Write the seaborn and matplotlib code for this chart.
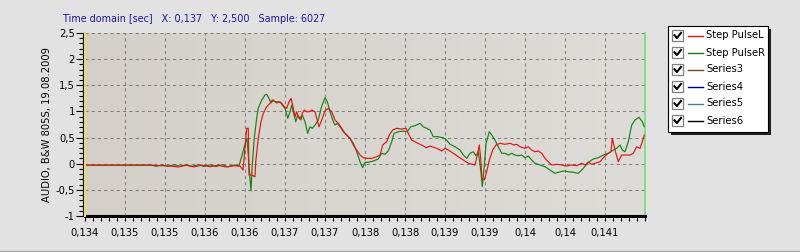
import numpy as np
import pandas as pd
import matplotlib
matplotlib.use("Agg")
import matplotlib.pyplot as plt
import seaborn as sns
from matplotlib.patches import Rectangle
from matplotlib.lines import Line2D
from matplotlib.ticker import FixedLocator, MultipleLocator

# ---------------- data ----------------
series_names = ["Step PulseL", "Step PulseR", "Series3", "Series4", "Series5", "Series6"]
series_colors = ["#E81212", "#128412", "#7A4A1A", "#000080", "#4A8080", "#000000"]

time_left = [0.134000, 0.134750, 0.135063, 0.135163, 0.135263, 0.135363, 0.135463, 0.135563,
             0.135663, 0.135763, 0.135863, 0.135938, 0.135975, 0.136021, 0.136041, 0.136050,
             0.136084, 0.136125, 0.136134, 0.136166, 0.136200, 0.136229, 0.136271, 0.136313,
             0.136341, 0.136375, 0.136416, 0.136459, 0.136491, 0.136521, 0.136550, 0.136575,
             0.136596, 0.136625, 0.136646, 0.136675, 0.136700, 0.136716, 0.136741, 0.136771,
             0.136800, 0.136834, 0.136875, 0.136896, 0.136925, 0.136959, 0.137000, 0.137041,
             0.137084, 0.137125, 0.137166, 0.137209, 0.137250, 0.137313, 0.137354, 0.137396,
             0.137438, 0.137479, 0.137521, 0.137584, 0.137646, 0.137688, 0.137721, 0.137771,
             0.137804, 0.137846, 0.137896, 0.137959, 0.138013, 0.138041, 0.138084, 0.138146,
             0.138209, 0.138263, 0.138313, 0.138375, 0.138416, 0.138459, 0.138500, 0.138541,
             0.138604, 0.138666, 0.138729, 0.138791, 0.138875, 0.138904, 0.138929, 0.138946,
             0.138963, 0.138991, 0.139021, 0.139054, 0.139096, 0.139138, 0.139188, 0.139250,
             0.139313, 0.139363, 0.139396, 0.139438, 0.139500, 0.139541, 0.139584, 0.139625,
             0.139666, 0.139709, 0.139750, 0.139791, 0.139834, 0.139896, 0.139959, 0.140021,
             0.140084, 0.140146, 0.140209, 0.140250, 0.140291, 0.140334, 0.140375, 0.140438,
             0.140491, 0.140541, 0.140575, 0.140591, 0.140625, 0.140666, 0.140709, 0.140750,
             0.140813, 0.140854, 0.140896, 0.140938, 0.140966, 0.140991]
amp_left = [-0.025, -0.025, -0.044, -0.063, -0.030, -0.060, -0.028, -0.058,
            -0.030, -0.062, -0.040, -0.044, -0.120, 0.677, 0.677, -0.216,
            -0.216, -0.249, 0.038, 0.486, 0.803, 0.964, 1.090, 1.155,
            1.218, 1.185, 1.185, 1.155, 1.090, 1.059, 1.185, 1.250,
            1.122, 0.899, 0.994, 0.868, 0.836, 0.964, 1.027, 0.994,
            0.994, 1.027, 0.994, 0.868, 0.707, 0.836, 1.010, 1.059,
            0.994, 0.836, 0.772, 0.677, 0.581, 0.486, 0.358, 0.262,
            0.166, 0.115, 0.103, 0.103, 0.134, 0.166, 0.358, 0.421,
            0.549, 0.644, 0.677, 0.663, 0.677, 0.581, 0.453, 0.402,
            0.358, 0.306, 0.338, 0.306, 0.281, 0.243, 0.294, 0.262,
            0.199, 0.134, 0.071, 0.008, -0.025, 0.166, 0.358, 0.103,
            -0.279, -0.312, -0.153, 0.071, 0.262, 0.358, 0.390, 0.371,
            0.390, 0.358, 0.371, 0.325, 0.294, 0.325, 0.262, 0.229,
            0.243, 0.199, 0.103, 0.038, -0.025, -0.011, -0.025, -0.044,
            -0.025, -0.038, 0.008, -0.025, 0.027, -0.011, 0.008, 0.038,
            0.134, 0.199, 0.229, 0.486, 0.262, 0.038, 0.166, 0.166,
            0.166, 0.199, 0.325, 0.294, 0.421, 0.549]

time_right = [0.134000, 0.134750, 0.134813, 0.134888, 0.134963, 0.135038, 0.135113, 0.135188,
              0.135263, 0.135338, 0.135413, 0.135488, 0.135563, 0.135638, 0.135713, 0.135788,
              0.135863, 0.135925, 0.136009, 0.136025, 0.136075, 0.136091, 0.136116, 0.136146,
              0.136166, 0.136209, 0.136250, 0.136271, 0.136300, 0.136325, 0.136354, 0.136396,
              0.136438, 0.136466, 0.136500, 0.136534, 0.136563, 0.136584, 0.136604, 0.136634,
              0.136659, 0.136688, 0.136716, 0.136750, 0.136784, 0.136813, 0.136841, 0.136875,
              0.136916, 0.136959, 0.137000, 0.137029, 0.137063, 0.137104, 0.137125, 0.137154,
              0.137188, 0.137229, 0.137271, 0.137313, 0.137354, 0.137396, 0.137438, 0.137471,
              0.137500, 0.137541, 0.137604, 0.137666, 0.137709, 0.137750, 0.137791, 0.137834,
              0.137863, 0.137916, 0.137979, 0.138029, 0.138071, 0.138125, 0.138188, 0.138229,
              0.138271, 0.138313, 0.138354, 0.138416, 0.138479, 0.138521, 0.138563, 0.138625,
              0.138688, 0.138729, 0.138771, 0.138813, 0.138854, 0.138888, 0.138916, 0.138946,
              0.138966, 0.138988, 0.139013, 0.139054, 0.139084, 0.139125, 0.139166, 0.139209,
              0.139250, 0.139291, 0.139334, 0.139375, 0.139416, 0.139459, 0.139500, 0.139541,
              0.139584, 0.139625, 0.139688, 0.139750, 0.139813, 0.139875, 0.139916, 0.139979,
              0.140041, 0.140104, 0.140166, 0.140229, 0.140291, 0.140354, 0.140416, 0.140479,
              0.140541, 0.140604, 0.140646, 0.140688, 0.140716, 0.140750, 0.140791, 0.140834,
              0.140875, 0.140925, 0.140966, 0.140991]
amp_right = [-0.030, -0.030, -0.020, -0.050, -0.022, -0.052, -0.020, -0.048,
             -0.022, -0.050, -0.020, -0.052, -0.022, -0.055, -0.020, -0.060,
             -0.025, -0.044, 0.421, 0.486, -0.522, -0.025, 0.491, 0.874,
             1.065, 1.218, 1.314, 1.327, 1.250, 1.161, 1.218, 1.161,
             1.185, 1.122, 1.059, 0.868, 0.994, 1.122, 0.994, 0.803,
             0.931, 0.868, 0.931, 0.803, 0.581, 0.707, 0.677, 0.740,
             0.836, 1.103, 1.262, 1.185, 0.994, 0.803, 0.740, 0.772,
             0.707, 0.612, 0.549, 0.486, 0.390, 0.229, 0.038, -0.076,
             0.027, 0.027, 0.052, 0.090, 0.199, 0.180, 0.243, 0.421,
             0.581, 0.612, 0.625, 0.612, 0.707, 0.727, 0.772, 0.707,
             0.677, 0.644, 0.516, 0.516, 0.497, 0.453, 0.371, 0.325,
             0.262, 0.166, 0.103, 0.199, 0.229, 0.153, 0.229, -0.120,
             -0.440, -0.088, 0.390, 0.612, 0.549, 0.453, 0.325, 0.199,
             0.199, 0.166, 0.199, 0.166, 0.153, 0.166, 0.115, 0.147,
             0.071, 0.008, -0.025, -0.057, -0.120, -0.184, -0.164, -0.140,
             -0.153, -0.164, -0.184, -0.088, 0.027, 0.090, 0.115, 0.166,
             0.199, 0.262, 0.294, 0.358, 0.262, 0.229, 0.421, 0.740,
             0.836, 0.887, 0.803, 0.707]

x_tick_values = [0.1340, 0.1345, 0.1350, 0.1355, 0.1360, 0.1365, 0.1370,
                 0.1375, 0.1380, 0.1385, 0.1390, 0.1395, 0.1400, 0.1405]
x_tick_labels = ["0,134", "0,135", "0,135", "0,136", "0,136", "0,137", "0,137",
                 "0,138", "0,138", "0,139", "0,139", "0,14", "0,14", "0,141"]
y_tick_values = [-1.0, -0.5, 0.0, 0.5, 1.0, 1.5, 2.0, 2.5]
y_tick_labels = ["-1", "-0,5", "0", "0,5", "1", "1,5", "2", "2,5"]
x_range = [0.134, 0.141]
y_range = [-1.0, 2.5]

title_text = "Time domain [sec]   X: 0,137   Y: 2,500   Sample: 6027"
y_label_text = "AUDIO, B&W 805S, 19.08.2009"

# ---------------- figure ----------------
plt.rcParams["font.family"] = ["DejaVu Sans"]
W, H = 800, 252
fig = plt.figure(figsize=(W / 100, H / 100), dpi=100, facecolor="#E2E2E2")


def fx(px):
    return px / W


def fy(py):
    return 1 - py / H


ax = fig.add_axes([fx(85), fy(216), 560 / W, 183 / H])

# gradient background for plot area
grad = np.linspace(0, 1, 256)
c0 = np.array([212, 208, 201]) / 255
c1 = np.array([222, 220, 216]) / 255
img = (c0[None, :] * (1 - grad[:, None]) + c1[None, :] * grad[:, None])[None, :, :]
ax.imshow(img, extent=[0, 1, 0, 1], transform=ax.transAxes, aspect="auto", zorder=0)

df = pd.concat([
    pd.DataFrame({"t": time_left, "v": amp_left, "series": series_names[0]}),
    pd.DataFrame({"t": time_right, "v": amp_right, "series": series_names[1]}),
], ignore_index=True)

sns.lineplot(data=df, x="t", y="v", hue="series", sort=False, estimator=None,
             palette={series_names[0]: series_colors[0], series_names[1]: series_colors[1]},
             hue_order=[series_names[1], series_names[0]],
             linewidth=0.85, legend=False, ax=ax, zorder=3)

ax.set_xlim(*x_range)
ax.set_ylim(*y_range)
ax.set_xlabel("")
ax.set_ylabel(y_label_text, fontsize=7.2, color="black")
ax.yaxis.set_label_coords((52 - 85) / 560, 0.5)

ax.xaxis.set_major_locator(FixedLocator(x_tick_values))
ax.set_xticklabels(x_tick_labels)
ax.xaxis.set_minor_locator(MultipleLocator(0.0001))
ax.yaxis.set_major_locator(FixedLocator(y_tick_values))
ax.set_yticklabels(y_tick_labels)
ax.yaxis.set_minor_locator(MultipleLocator(0.1))

ax.tick_params(axis="x", which="both", direction="out", length=3.8, width=0.8,
               color="black", pad=5, labelsize=7.2, labelcolor="black")
ax.tick_params(axis="y", which="major", direction="out", length=5.0, width=0.8,
               color="black", pad=1, labelsize=7.2, labelcolor="black")
ax.tick_params(axis="y", which="minor", direction="out", length=2.8, width=0.8,
               color="black")

ax.set_axisbelow(True)
ax.grid(True, which="major", color="#7C7C7C", linestyle=(0, (3, 3)), linewidth=0.75)

ax.spines["top"].set_visible(False)
ax.spines["right"].set_color("#6EE06E")
ax.spines["right"].set_linewidth(1.2)
ax.spines["left"].set_color("black")
ax.spines["left"].set_linewidth(0.9)
ax.spines["left"].set_position(("outward", 1.2))
ax.spines["bottom"].set_color("black")
ax.spines["bottom"].set_linewidth(2.2)
ax.axvline(x_range[0], color="#E6DC70", linewidth=1.6, zorder=4, clip_on=False)

# title text
fig.text(fx(63), fy(18.5), title_text, color="#1616A8", fontsize=6.9,
         ha="left", va="center")

# ---------------- legend (checkbox style) ----------------
lx0, ly0, lx1, ly1 = 667.5, 25.7, 768.0, 132.0
fig.patches.append(Rectangle((fx(lx0 + 3), fy(ly1 + 3)), (lx1 - lx0) / W, (ly1 - ly0) / H,
                             transform=fig.transFigure, facecolor="#202020",
                             edgecolor="none", zorder=1))
fig.patches.append(Rectangle((fx(lx0), fy(ly1)), (lx1 - lx0) / W, (ly1 - ly0) / H,
                             transform=fig.transFigure, facecolor="white",
                             edgecolor="black", linewidth=0.8, zorder=2))
for i, (name, col) in enumerate(zip(series_names, series_colors)):
    cy = 35.5 + 17 * i
    fig.patches.append(Rectangle((fx(672), fy(cy + 5.5)), 11 / W, 11 / H,
                                 transform=fig.transFigure, facecolor="white",
                                 edgecolor="#808080", linewidth=0.9, zorder=3))
    fig.lines.append(Line2D([fx(674.5), fx(676.8), fx(681)],
                            [fy(cy - 0.3), fy(cy + 2.6), fy(cy - 2.6)],
                            transform=fig.transFigure, color="black",
                            linewidth=1.5, zorder=4))
    fig.lines.append(Line2D([fx(688), fx(703)], [fy(cy), fy(cy)],
                            transform=fig.transFigure, color=col,
                            linewidth=1.0, zorder=4))
    fig.text(fx(706.5), fy(cy), name, fontsize=7.2, color="black",
             ha="left", va="center", zorder=5)

# panel bottom edge
fig.lines.append(Line2D([0, 1], [fy(250.5), fy(250.5)], transform=fig.transFigure,
                        color="#A8A8A8", linewidth=1.0))

fig.savefig("out.png", dpi=100, facecolor=fig.get_facecolor())
